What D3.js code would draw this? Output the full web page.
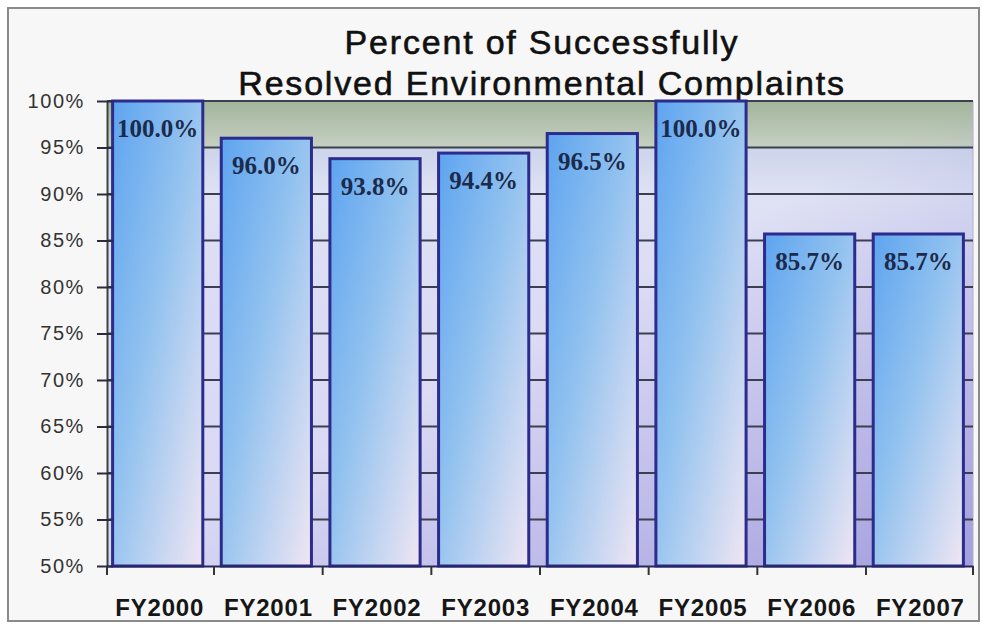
<!DOCTYPE html>
<html>
<head>
<meta charset="utf-8">
<script src="https://cdn.jsdelivr.net/npm/d3@7"></script>
<style>
  html, body { margin: 0; padding: 0; background: #fff; }
  svg { display: block; }
</style>
</head>
<body>
<div id="chart"></div>
<script>
const years = ['FY2000', 'FY2001', 'FY2002', 'FY2003', 'FY2004', 'FY2005', 'FY2006', 'FY2007']
const percents = [100.0, 96.0, 93.8, 94.4, 96.5, 100.0, 85.7, 85.7]
const yTicks = [50, 55, 60, 65, 70, 75, 80, 85, 90, 95, 100]
const titleLines = ['Percent of Successfully', 'Resolved Environmental Complaints']

const W = 982, H = 629
const margin = { top: 101, right: 9, bottom: 63, left: 107 }
const width = W - margin.left - margin.right
const height = H - margin.top - margin.bottom

const svg = d3.select('#chart').append('svg')
    .attr('width', W)
    .attr('height', H)

const defs = svg.append('defs')

// plot background: green band on top, lavender below
const bg = defs.append('linearGradient').attr('id', 'bgGrad')
    .attr('x1', 0).attr('y1', 0).attr('x2', 0).attr('y2', 1)
;[[0, '#a2b59c'], [0.1, '#c6d0c2'], [0.1, '#ccd4ea'], [0.2, '#dfe2f4'], [0.4, '#dcdcf5'], [1, '#d8d8f3']]
    .forEach(s => bg.append('stop').attr('offset', s[0]).attr('stop-color', s[1]))

// purple shade growing toward bottom-right
const shade = defs.append('linearGradient').attr('id', 'shadeGrad')
    .attr('x1', 0.5).attr('y1', 0.5).attr('x2', 1).attr('y2', 1)
shade.append('stop').attr('offset', 0).attr('stop-color', '#6e64c8').attr('stop-opacity', 0)
shade.append('stop').attr('offset', 1).attr('stop-color', '#6e64c8').attr('stop-opacity', 0.5)

// bar fill: blue top-left to pale pink bottom-right
const barGrad = defs.append('linearGradient').attr('id', 'barGrad')
    .attr('x1', 0).attr('y1', 0).attr('x2', 1).attr('y2', 1)
;[[0, '#5ea4f0'], [0.45, '#92c2ef'], [1, '#f0e6f3']]
    .forEach(s => barGrad.append('stop').attr('offset', s[0]).attr('stop-color', s[1]))

// outer frame
svg.append('rect')
    .attr('x', 8).attr('y', 8)
    .attr('width', 971).attr('height', 613)
    .attr('fill', '#f7f7f7')
    .attr('stroke', '#8a8a8a')
    .attr('stroke-width', 2)

// title
svg.append('text')
    .attr('x', 542)
    .attr('font-family', '"Liberation Sans", Arial, sans-serif')
    .attr('font-size', 34)
    .attr('letter-spacing', 1.8)
    .attr('text-anchor', 'middle')
    .attr('fill', '#111')
    .attr('stroke', '#111')
    .attr('stroke-width', 0.6)
  .selectAll('tspan')
  .data(titleLines)
  .join('tspan')
    .attr('x', 542)
    .attr('y', (d, i) => 54 + i * 41)
    .text(d => d)

const g = svg.append('g')
    .attr('transform', `translate(${margin.left},${margin.top})`)

const x = d3.scaleBand()
    .domain(years)
    .range([0, width])
    .paddingInner(0.17)
    .paddingOuter(0.07)

const y = d3.scaleLinear()
    .domain([50, 100])
    .range([height, 0])

g.append('rect')
    .attr('width', width).attr('height', height)
    .attr('fill', 'url(#bgGrad)')
g.append('rect')
    .attr('width', width).attr('height', height)
    .attr('fill', 'url(#shadeGrad)')
g.append('line')
    .attr('x1', width).attr('x2', width)
    .attr('y1', 0).attr('y2', height)
    .attr('stroke', '#b0b0c8')

// gridlines
g.append('g')
  .selectAll('line')
  .data(yTicks.filter(t => t > 50))
  .join('line')
    .attr('x1', 0).attr('x2', width)
    .attr('y1', d => y(d)).attr('y2', d => y(d))
    .attr('stroke', '#3a4050')
    .attr('stroke-width', 2)

// bars
g.append('g')
  .selectAll('rect')
  .data(percents)
  .join('rect')
    .attr('x', (d, i) => x(years[i]) - 2)
    .attr('y', d => y(d))
    .attr('width', x.bandwidth())
    .attr('height', d => y(50) - y(d))
    .attr('fill', 'url(#barGrad)')
    .attr('stroke', '#2c2c8e')
    .attr('stroke-width', 3)

// value labels
g.append('g')
  .selectAll('text')
  .data(percents)
  .join('text')
    .attr('x', (d, i) => x(years[i]) - 2 + x.bandwidth() / 2)
    .attr('y', d => y(d) + 36)
    .attr('text-anchor', 'middle')
    .attr('font-family', '"Liberation Serif", "Times New Roman", serif')
    .attr('font-weight', 'bold')
    .attr('font-size', 25)
    .attr('fill', '#1c2a4c')
    .text(d => d3.format('.1f')(d) + '%')

// y axis
const yAxis = g.append('g')
    .call(d3.axisLeft(y).tickValues(yTicks).tickSize(10).tickSizeOuter(0).tickFormat(d => d + '%'))
yAxis.select('.domain').attr('stroke', '#3b463b').attr('stroke-width', 2)
yAxis.selectAll('.tick line').attr('x1', 6).attr('stroke', '#2c2c40').attr('stroke-width', 2)
yAxis.selectAll('.tick text')
    .attr('x', -22)
    .attr('font-family', '"Liberation Sans", Arial, sans-serif')
    .attr('font-size', 20)
    .attr('letter-spacing', 1.6)
    .attr('fill', '#333')

// x axis
const xAxis = g.append('g')
    .attr('transform', `translate(0,${height})`)
    .call(d3.axisBottom(x).tickSize(0).tickPadding(33))
xAxis.select('.domain').attr('stroke', '#262660').attr('stroke-width', 2)
xAxis.selectAll('.tick text')
    .attr('font-family', '"Liberation Sans", Arial, sans-serif')
    .attr('font-size', 24)
    .attr('font-weight', 'bold')
    .attr('letter-spacing', 0.8)
    .attr('fill', '#161616')

// category boundary ticks
const bounds = years.map(c => x(c) - x.step() * x.paddingInner() / 2).concat([width])
bounds[0] = 0
xAxis.append('g')
  .selectAll('line')
  .data(bounds)
  .join('line')
    .attr('x1', d => d).attr('x2', d => d)
    .attr('y1', 0).attr('y2', 9)
    .attr('stroke', '#333')
    .attr('stroke-width', 2)
</script>
</body>
</html>
